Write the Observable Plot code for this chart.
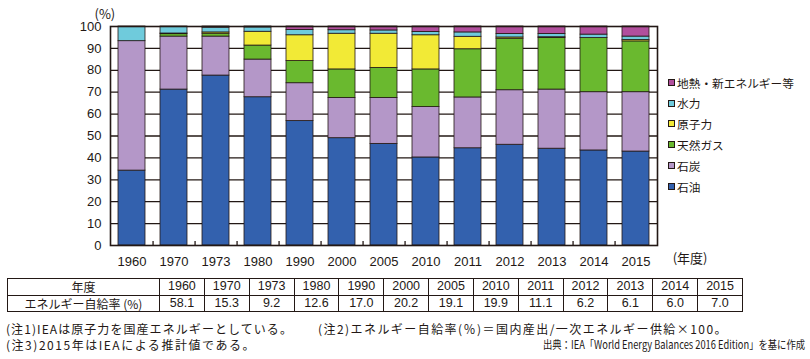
<!DOCTYPE html>
<html><head><meta charset="utf-8">
<script src="https://cdn.jsdelivr.net/npm/d3@7"></script>
<script src="https://cdn.jsdelivr.net/npm/@observablehq/plot@0.6"></script>
<style>
body{margin:0;background:#fff;color:#231815;font-family:"Liberation Sans","Noto Sans CJK JP",sans-serif;}
#wrap{position:relative;width:810px;height:359px;overflow:hidden;background:#fff}
#chart svg{display:block}
#legend{position:absolute;left:668px;top:72px;font-family:"Noto Sans CJK JP",sans-serif;font-size:13px;line-height:1}
.li{display:flex;align-items:center;height:20.8px;white-space:nowrap}
.sw{width:5px;height:5px;border:1.3px solid #231815;margin-right:2px;flex:none}
table{position:absolute;left:7px;top:278px;border-collapse:collapse;table-layout:fixed;width:736px;border:1.6px solid #231815;font-size:12.5px;font-family:"Liberation Sans","Noto Sans CJK JP",sans-serif}
td{border:1px solid #231815;text-align:center;padding:0;height:15.5px;line-height:15.5px;overflow:hidden;white-space:nowrap}
td.h{font-family:"Noto Sans CJK JP",sans-serif;font-size:12px}
.note{position:absolute;font-family:"Noto Sans CJK JP",sans-serif;font-size:12px;white-space:nowrap;line-height:13px;display:inline-block}
#n4{font-family:"Liberation Sans Narrow","Noto Sans CJK JP",sans-serif;font-size:11.5px}
</style>
</head><body>
<div id="wrap">
<div id="chart"></div>
<div id="legend"></div>
<table id="tbl"></table>
<div class="note" id="n1" style="left:6px;top:322px"></div>
<div class="note" id="n2" style="left:318px;top:322px"></div>
<div class="note" id="n3" style="left:6px;top:338px"></div>
<div class="note" id="n4" style="left:543px;top:338px"></div>
</div>
<script>
const years = ["1960","1970","1973","1980","1990","2000","2005","2010","2011","2012","2013","2014","2015"];
const seriesNames = ["石油","石炭","天然ガス","原子力","水力","地熱・新エネルギー等"];
const oil     = [34.2, 71.2, 77.6, 67.7, 56.8, 49.0, 46.4, 40.2, 44.4, 46.0, 44.2, 43.4, 42.9];
const coal    = [59.1, 24.2, 17.8, 17.2, 17.3, 18.4, 21.0, 23.0, 23.2, 24.9, 27.0, 26.6, 27.1];
const gas     = [0.0, 1.1, 1.3, 6.4, 10.1, 13.0, 13.7, 17.2, 22.0, 23.5, 23.5, 24.7, 23.2];
const nuclear = [0.0, 0.3, 0.6, 6.3, 11.8, 16.3, 15.6, 15.6, 5.7, 0.6, 0.4, 0.0, 0.6];
const hydro   = [6.7, 3.0, 2.2, 2.0, 2.4, 1.6, 1.5, 1.5, 2.0, 1.6, 1.5, 1.6, 1.6];
const other   = [0.0, 0.2, 0.5, 0.4, 1.6, 1.7, 1.8, 2.5, 2.7, 3.4, 3.4, 3.7, 4.6];
const colors  = ["#3361ae", "#b497c8", "#6ab92f", "#f2ea36", "#6fcbdc", "#b14f9d"];
const selfSufficiency = ["58.1","15.3","9.2","12.6","17.0","20.2","19.1","19.9","11.1","6.2","6.1","6.0","7.0"];
const yTicks = [0,10,20,30,40,50,60,70,80,90,100];
const yUnit = "(%)";
const xUnit = "(年度)";
const tableHead = ["年度", "エネルギー自給率 (%)"];
const notes = [
  "(注1)IEAは原子力を国産エネルギーとしている。",
  "(注2)エネルギー自給率(％)＝国内産出/一次エネルギー供給×100。",
  "(注3)2015年はIEAによる推計値である。",
  "出典：IEA「World Energy Balances 2016 Edition」を基に作成"
];
const noteWidths = [287, 410, 250, 262];
const legendLabelWidth = 117;

const seriesValues = [oil, coal, gas, nuclear, hydro, other];
const rows = years.flatMap((y, i) => seriesNames.map((s, k) => ({year: y, source: s, value: seriesValues[k][i]}))).filter(d => d.value > 0);

const W = 810, H = 270, mt = 26, mb = 25, ml = 110, mr = 153;
const padIn = 0.36, padOut = 0.17;
const step = (W - ml - mr) / (years.length - padIn + 2 * padOut);
const ink = "#231815";

const chart = Plot.plot({
  width: W, height: H, marginTop: mt, marginBottom: mb, marginLeft: ml, marginRight: mr,
  style: {fontFamily: "'Liberation Sans','Noto Sans CJK JP',sans-serif", fontSize: "12px", color: ink, background: "#fff"},
  x: {domain: years, paddingInner: padIn, paddingOuter: padOut},
  y: {domain: [0, 100]},
  color: {domain: seriesNames, range: colors},
  marks: [
    Plot.ruleY(yTicks.filter(v => v > 0 && v < 100), {stroke: ink, strokeWidth: 1.3}),
    Plot.barY(rows, {x: "year", y: "value", fill: "source", order: seriesNames, stroke: ink, strokeWidth: 0.8}),
    Plot.ruleX(years.slice(0, -1), {x: d => d, dx: step / 2, insetTop: (H - mt - mb) - 4, stroke: ink, strokeWidth: 1.3}),
    Plot.frame({stroke: ink, strokeWidth: 1.6}),
    Plot.axisY({ticks: yTicks, tickSize: 0, tickPadding: 9, label: null, fontSize: 13}),
    Plot.axisX({tickSize: 0, tickPadding: 11, label: null, fontSize: 13}),
    Plot.text([yUnit], {frameAnchor: "top-left", dx: -16, dy: -17, fontSize: 13, fontFamily: "'Noto Sans CJK JP',sans-serif"}),
    Plot.text([xUnit], {frameAnchor: "bottom-right", dx: 50, dy: 17, fontSize: 13, fontFamily: "'Noto Sans CJK JP',sans-serif"})
  ]
});
document.getElementById("chart").appendChild(chart);

// legend (top to bottom: reverse stack order)
const legend = document.getElementById("legend");
const labelSpans = [];
seriesNames.map((s, k) => ({s, c: colors[k]})).reverse().forEach(({s, c}) => {
  const item = document.createElement("div"); item.className = "li";
  const sw = document.createElement("span"); sw.className = "sw"; sw.style.background = c;
  const t = document.createElement("span"); t.textContent = s;
  item.appendChild(sw); item.appendChild(t); legend.appendChild(item);
  labelSpans.push(t);
});
const widest = Math.max(...labelSpans.map(t => t.getBoundingClientRect().width));
legend.style.fontSize = (13 * legendLabelWidth / widest) + "px";

// table
const tbl = document.getElementById("tbl");
const cg = document.createElement("colgroup");
const c0 = document.createElement("col"); c0.style.width = "152px"; cg.appendChild(c0);
years.forEach(() => { const c = document.createElement("col"); cg.appendChild(c); });
tbl.appendChild(cg);
[[tableHead[0], ...years], [tableHead[1], ...selfSufficiency]].forEach(r => {
  const tr = document.createElement("tr");
  r.forEach((v, j) => { const td = document.createElement("td"); td.textContent = v; if (j === 0) td.className = "h"; tr.appendChild(td); });
  tbl.appendChild(tr);
});

// notes, fitted to the widths they take in the reference
["n1","n2","n3","n4"].forEach((id, i) => {
  const el = document.getElementById(id);
  el.textContent = notes[i];
  const w = el.getBoundingClientRect().width;
  const target = noteWidths[i];
  if (w > target) {
    el.style.transformOrigin = "left center";
    el.style.transform = `scaleX(${target / w})`;
  } else if (w < target - 4) {
    el.style.letterSpacing = ((target - w) / notes[i].length) + "px";
  }
});
</script>
</body></html>
